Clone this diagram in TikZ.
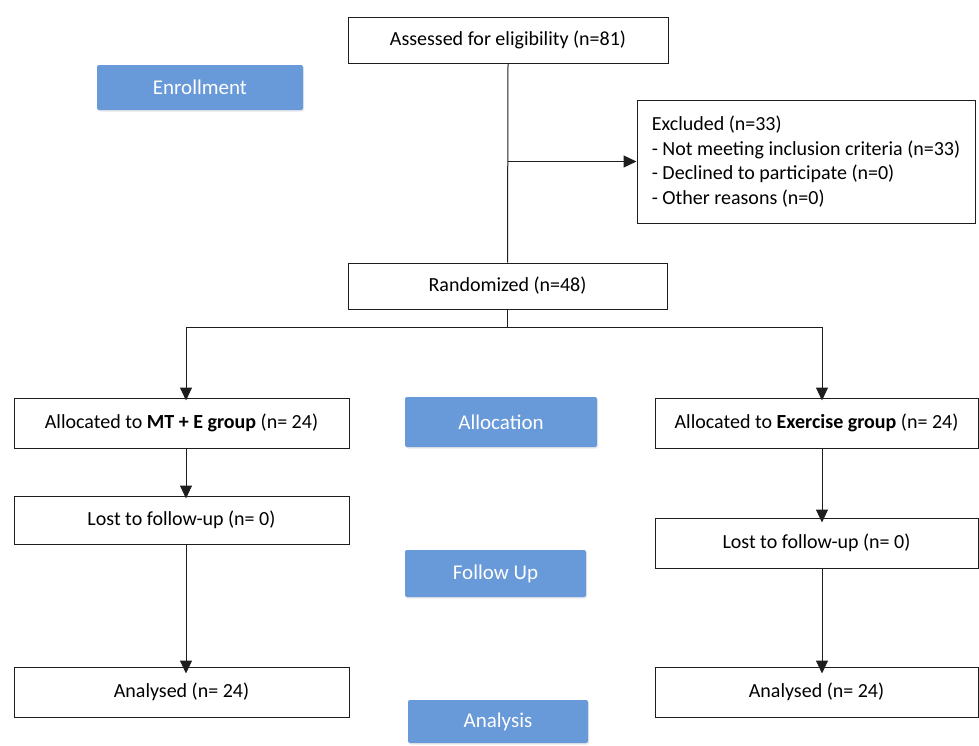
\documentclass[tikz,border=0pt]{standalone}
\usepackage{fontspec}
\setmainfont{Carlito}
\usetikzlibrary{arrows.meta,shadows}
\definecolor{lineclr}{RGB}{30,30,30}
\definecolor{bluebox}{RGB}{104,153,216}
\begin{document}
\begin{tikzpicture}[x=1pt,y=-1pt,
 box/.style={draw=lineclr, line width=1pt, fill=white, inner sep=0pt, align=center, font=\fontsize{20}{24}\selectfont},
 ln/.style={draw=lineclr, line width=1pt},
 arr/.style={ln, -{Triangle[length=13pt,width=12pt]}},
 phase/.style={fill=bluebox, rounded corners=2pt, text=white, inner sep=0pt, font=\fontsize{21}{24}\selectfont, drop shadow={opacity=0.18,shadow xshift=1pt,shadow yshift=-1.5pt}}
]
\useasboundingbox (0,0) rectangle (979,745);
% phase labels
\node[phase, minimum width=206, minimum height=45] (enr) at (200,87.5) {Enrollment};
\node[phase, minimum width=192, minimum height=50] (alc) at (501,422) {Allocation};
\node[phase, minimum width=181, minimum height=47] (fol) at (495.5,573.5) {Follow Up};
\node[phase, minimum width=180, minimum height=43] (ana) at (498,721.5) {Analysis};
% boxes
\node[box, minimum width=338, minimum height=123, align=left, font=\fontsize{20}{24.5}\selectfont] (excl) at (806,161.5) {Excluded (n=33)\\- Not meeting inclusion criteria (n=33)\\- Declined to participate (n=0)\\- Other reasons (n=0)};
\node[box, minimum width=320, minimum height=46] (assess) at (508,40) {Assessed for eligibility (n=81)};
\node[box, minimum width=319, minimum height=46] (rand) at (507.5,286) {Randomized (n=48)};
\node[box, minimum width=335, minimum height=50] (alocL) at (181.5,423) {Allocated to \textbf{MT + E group} (n= 24)};
\node[box, minimum width=323, minimum height=50] (alocR) at (816.5,423) {Allocated to \textbf{Exercise group} (n= 24)};
\node[box, minimum width=335, minimum height=48] (lostL) at (181.5,520) {Lost to follow-up (n= 0)};
\node[box, minimum width=323, minimum height=50] (lostR) at (816.5,543) {Lost to follow-up (n= 0)};
\node[box, minimum width=335, minimum height=50] (anaL) at (181.5,692) {Analysed (n= 24)};
\node[box, minimum width=323, minimum height=50] (anaR) at (816.5,692) {Analysed (n= 24)};
% connectors
\coordinate (split) at (rand.south |- 0,327);
\coordinate (L) at (186,327);
\coordinate (R) at (822,327);
\draw[ln] (assess.south) -- (rand.north);
\draw[arr] (assess.south |- excl.west) -- (excl.west);
\draw[ln] (rand.south) -- (split);
\draw[ln] (L) -- (R);
\draw[arr] (L) -- ([yshift=-3pt]L |- alocL.north);
\draw[arr] (R) -- ([yshift=-3pt]R |- alocR.north);
\draw[arr] (L |- alocL.south) -- ([yshift=-3pt]L |- lostL.north);
\draw[arr] (R |- alocR.south) -- ([yshift=-5pt]R |- lostR.north);
\draw[arr] (L |- lostL.south) -- ([yshift=-7pt]L |- anaL.north);
\draw[arr] (R |- lostR.south) -- ([yshift=-7pt]R |- anaR.north);
\end{tikzpicture}
\end{document}
